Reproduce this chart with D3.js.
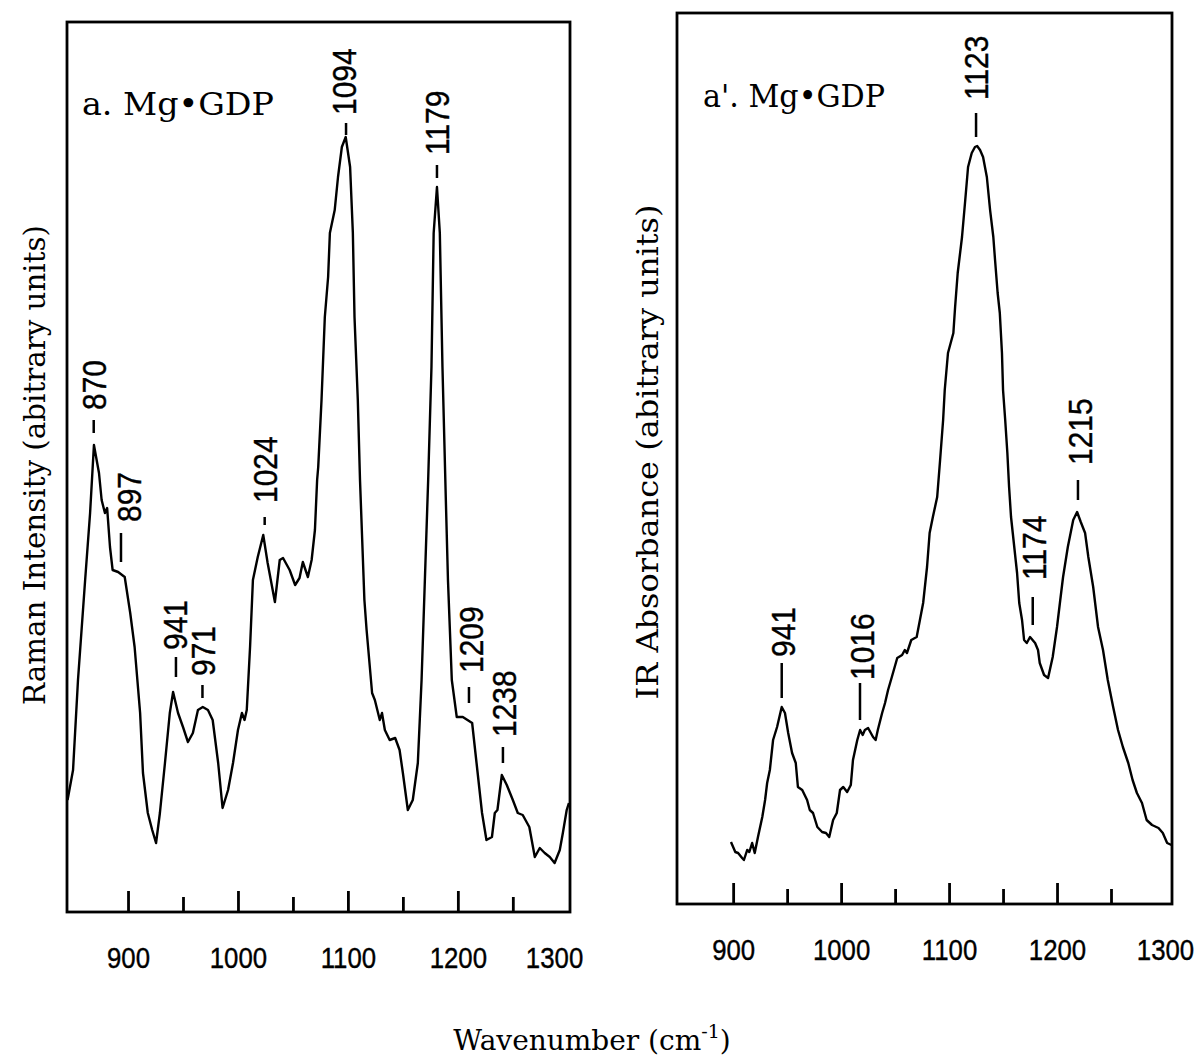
<!DOCTYPE html>
<html><head><meta charset="utf-8">
<script src="https://cdn.jsdelivr.net/npm/d3@7"></script>
<style>body{margin:0;background:#fff}</style>
</head><body>
<svg id="chart" width="1199" height="1062"></svg>
<script>
// ---------- Raman spectrum (panel a) ----------
const ramanWn = [845,850,854.5,861,865.5,869,873.6,876,879,881,883.6,886,891,897,902,906,911,913.6,918,922,925.5,929,933.6,938,941,945.5,950,954.5,959,963.6,968,972.7,977,982,986,991,995.5,1000,1003.6,1006,1008,1011,1013.6,1018,1023,1027,1033.6,1038,1041,1047,1052,1056,1059,1063.6,1067,1070,1072,1073,1076,1079,1082,1083.6,1088,1091,1094.5,1098,1102,1104.5,1106,1109,1111,1113,1115,1117,1122,1124.5,1129,1131,1133.6,1138,1143,1147,1150,1154.5,1159,1163.6,1167,1170,1173,1176,1178,1181,1183.6,1186,1189,1191,1194.5,1199,1204.5,1213,1217,1222,1226,1231,1233.6,1236,1240,1244.5,1250,1254.5,1259,1265,1270,1274.5,1279,1283.6,1288,1292.7,1295.5,1299,1301];
const ramanInt = [11.2,14.2,23.2,33.2,39.9,46.7,43.9,41.2,39.9,40.4,36.5,34.2,34.0,33.5,29.9,26.5,19.9,13.9,9.9,8.2,6.9,9.9,14.9,19.9,22.0,19.9,18.5,17.0,17.9,20.2,20.5,20.2,19.2,14.9,10.4,12.2,14.9,18.2,19.9,19.2,20.2,26.5,33.2,35.5,37.7,34.9,31.0,35.2,35.4,34.2,32.7,33.4,35.0,33.5,35.2,38.2,43.2,44.5,51.2,59.5,63.5,67.9,70.2,73.5,76.5,77.5,74.5,67.9,59.5,51.2,43.2,37.2,31.2,28.2,21.9,21.2,19.2,19.9,18.2,17.2,17.4,16.2,13.9,10.2,11.2,14.9,23.2,33.2,43.2,54.5,67.9,72.5,67.9,54.5,41.5,33.2,23.2,19.5,19.5,18.9,14.9,9.9,7.2,7.5,9.9,10.2,13.7,12.7,11.2,9.9,9.7,8.5,5.5,6.4,5.9,5.5,4.9,6.2,7.9,10.2,10.9];

// Raman peak annotations
const ramanPeakText   = ["870","897","941","971","1024","1094","1179","1209","1238"];
const ramanPeakTextWn = [869.5,901.3,943,968.2,1024.9,1096.4,1181,1211.9,1242];
const ramanPeakDashWn = [868.8,893.6,943.6,967.7,1024.3,1098.3,1181,1210.1,1241];
const ramanPeakDashLo = [47.9,35.0,23.5,21.4,38.7,77.7,73.4,20.9,14.9];
const ramanPeakDashHi = [49.2,37.9,25.5,22.7,39.5,78.9,74.7,22.5,16.5];
const ramanPeakTextAt = [50.2,39.0,26.2,23.6,40.9,79.7,75.7,23.9,17.5];

// ---------- IR spectrum (panel a') ----------
const irWn = [898,902,904.6,908.3,910,913,915,917.6,920,923,927,929.6,931.5,934,937,940.7,945,948,951,954.6,958,960,964,968.5,971,974,978,982.4,986,989,992.6,996,999,1002,1005.6,1009,1011,1015,1017.6,1020,1022,1025,1029.6,1032,1034,1038,1040.7,1043.5,1047,1052,1056.5,1059,1061,1065,1070,1073,1076,1079.6,1082,1085,1089,1091.7,1094.5,1096,1099,1104,1105.6,1108,1112,1115,1117.6,1121,1124,1126,1128.7,1131.5,1135,1138,1141,1142.6,1145,1147,1149,1150,1152,1154,1155.6,1157.4,1159,1163,1165,1167.6,1169.5,1172,1175,1179.7,1182.4,1184,1188,1191.7,1196,1200,1203,1205.6,1210,1215,1218.6,1222,1226,1229,1233.5,1238,1242.6,1247,1252,1256.5,1261,1266,1270,1274,1278.7,1283,1288,1294,1298,1302,1306];
const irAbs = [6.2,5.2,5.1,4.6,4.4,5.4,5.2,6.1,5.1,6.7,8.7,10.4,12.1,13.4,16.4,17.7,19.7,19.1,17.1,15.1,14.1,11.7,11.4,10.4,9.4,9.1,7.7,7.2,7.1,6.7,8.4,9.1,11.4,11.7,11.2,11.9,14.4,16.4,17.4,16.9,17.4,17.6,16.7,16.4,17.4,19.1,20.1,21.4,22.7,24.6,24.9,25.4,25.1,26.4,26.7,28.4,30.1,33.7,37.1,38.7,40.7,44.4,48.4,51.4,55.1,57.1,59.7,63.1,66.7,70.4,73.7,75.1,75.7,75.8,75.4,74.7,72.7,69.4,66.7,64.4,61.1,59.1,55.1,51.4,48.4,45.1,41.7,38.7,37.1,33.1,30.1,28.4,26.4,26.1,26.7,26.1,25.4,24.1,22.9,22.6,24.7,27.7,30.4,32.7,35.7,38.4,39.2,38.2,37.1,34.7,31.7,27.7,25.4,22.4,19.7,17.4,15.7,14.1,12.4,11.1,10.1,8.4,7.9,7.6,7.1,6.1,5.9];

const irPeakText   = ["941","1016","1123","1174","1215"];
const irPeakTextWn = [946.2,1019.4,1125,1178.7,1221.3];
const irPeakDashWn = [945,1017.5,1125,1177.5,1219.4];
const irPeakDashLo = [20.6,18.4,76.7,27.9,40.4];
const irPeakDashHi = [24.1,22.1,79.1,30.7,42.4];
const irPeakTextAt = [24.7,22.4,80.4,32.4,43.9];

// ---------- axes ----------
const majorTicks = [900,1000,1100,1200];
const minorTicks = [950,1050,1150,1250];
const tickLabels = [900,1000,1100,1200,1300];

const panelTitles = ["a. Mg\u2022GDP", "a'. Mg\u2022GDP"];
const yTitles = ["Raman Intensity (abitrary units)", "IR Absorbance (abitrary units)"];

const svg = d3.select("#chart");
svg.append("rect").attr("width",1199).attr("height",1062).attr("fill","#fff");

const SERIF = "'DejaVu Serif', 'Liberation Serif', serif";
const SANS = "'Liberation Sans', Arial, sans-serif";

function panel(cfg) {
  const x = d3.scaleLinear().domain(cfg.xDomain).range([cfg.left, cfg.right]);
  const y = d3.scaleLinear().domain(cfg.yDomain).range([cfg.bottom, cfg.top]);
  const g = svg.append("g");

  // frame
  g.append("rect").attr("x", cfg.left).attr("y", cfg.top)
    .attr("width", cfg.right - cfg.left).attr("height", cfg.bottom - cfg.top)
    .attr("fill","none").attr("stroke","#000").attr("stroke-width",2.8);

  const axG = g.append("g").attr("transform", `translate(0,${cfg.bottom})`);
  axG.append("g").call(d3.axisBottom(x).tickValues(majorTicks).tickSize(-21).tickFormat(""))
    .call(a => a.select(".domain").remove())
    .selectAll("line").attr("stroke-width",2.8);
  axG.append("g").call(d3.axisBottom(x).tickValues(minorTicks).tickSize(-15).tickFormat(""))
    .call(a => a.select(".domain").remove())
    .selectAll("line").attr("stroke-width",2.8);
  const lab = axG.append("g").call(d3.axisBottom(x).tickValues(tickLabels).tickSize(0).tickPadding(35).tickFormat(d3.format("d")))
    .call(a => a.select(".domain").remove());
  lab.selectAll("text").attr("font-family", SANS).attr("font-size", 30).attr("fill","#000")
    .attr("stroke","#000").attr("stroke-width",0.4)
    .attr("transform","scale(0.86,1)");
  if (cfg.lastLabelShift) lab.selectAll("text").filter(d => d === 1300).attr("dx", cfg.lastLabelShift);

  // spectrum
  const line = d3.line().x(d => x(d[0])).y(d => y(d[1]));
  g.append("path").datum(d3.zip(cfg.wn, cfg.val)).attr("d", line)
    .attr("fill","none").attr("stroke","#000").attr("stroke-width",2.4).attr("stroke-linejoin","round");

  // peak annotations
  cfg.pText.forEach((t, i) => {
    g.append("line").attr("x1", x(cfg.pDashWn[i])).attr("x2", x(cfg.pDashWn[i]))
      .attr("y1", y(cfg.pDashLo[i])).attr("y2", y(cfg.pDashHi[i]))
      .attr("stroke","#000").attr("stroke-width",2.5);
    g.append("text")
      .attr("transform", `translate(${x(cfg.pTextWn[i])},${y(cfg.pTextAt[i])}) rotate(-90) scale(0.88,1)`)
      .attr("dominant-baseline","central")
      .attr("font-family", SANS).attr("font-size", 34).attr("fill","#000")
      .attr("stroke","#000").attr("stroke-width",0.4)
      .text(t);
  });

  // panel title
  g.append("text").attr("x", cfg.titleX).attr("y", cfg.titleY)
    .attr("font-family", SERIF).attr("font-size", 31).attr("fill","#000")
    .attr("textLength", cfg.titleLen).attr("lengthAdjust","spacingAndGlyphs")
    .text(cfg.title);

  // y title
  g.append("text")
    .attr("transform", `translate(${cfg.yTitleX},${cfg.yTitleY}) rotate(-90)`)
    .attr("text-anchor","middle").attr("font-family", SERIF).attr("font-size", 29).attr("fill","#000")
    .attr("textLength", cfg.yTitleLen).attr("lengthAdjust","spacingAndGlyphs")
    .text(cfg.yTitle);
}

panel({
  left: 67, right: 570, top: 22, bottom: 912,
  xDomain: [844.5, 1302], yDomain: [0, 89],
  wn: ramanWn, val: ramanInt,
  pText: ramanPeakText, pTextWn: ramanPeakTextWn, pDashWn: ramanPeakDashWn,
  pDashLo: ramanPeakDashLo, pDashHi: ramanPeakDashHi, pTextAt: ramanPeakTextAt,
  title: panelTitles[0], titleX: 82, titleY: 115, titleLen: 192,
  yTitle: yTitles[0], yTitleX: 45, yTitleY: 465, yTitleLen: 480,
  lastLabelShift: -16
});

panel({
  left: 677, right: 1172, top: 13, bottom: 904,
  xDomain: [848, 1306.5], yDomain: [0, 89.1],
  wn: irWn, val: irAbs,
  pText: irPeakText, pTextWn: irPeakTextWn, pDashWn: irPeakDashWn,
  pDashLo: irPeakDashLo, pDashHi: irPeakDashHi, pTextAt: irPeakTextAt,
  title: panelTitles[1], titleX: 703, titleY: 107, titleLen: 182,
  yTitle: yTitles[1], yTitleX: 658, yTitleY: 452, yTitleLen: 495
});

// shared x title
const xt = svg.append("text").attr("x", 592).attr("y", 1050).attr("text-anchor","middle")
  .attr("font-family", SERIF).attr("font-size", 28).attr("fill","#000");
xt.append("tspan").text("Wavenumber (cm");
xt.append("tspan").attr("dy", -12).attr("font-size", 19).text("-1");
xt.append("tspan").attr("dy", 12).text(")");
</script>
</body></html>
